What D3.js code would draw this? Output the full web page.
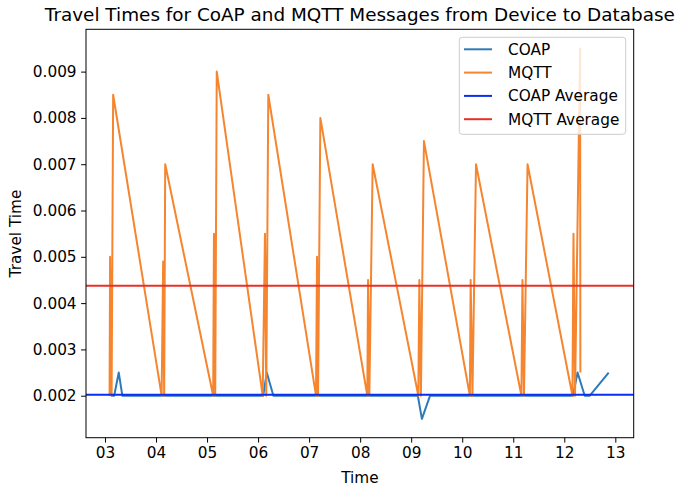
<!DOCTYPE html>
<html>
<head>
<meta charset="utf-8">
<script src="https://cdn.jsdelivr.net/npm/d3@7"></script>
<style>
  html, body { margin: 0; padding: 0; background: #fff; }
  svg { display: block; font-family: "DejaVu Sans", sans-serif; }
</style>
</head>
<body>
<svg id="chart" width="675" height="489"></svg>
<script>
// ---- data ----
const coapTimes  = [3.12, 3.18, 3.27, 3.34, 4.2, 5.2, 6.10, 6.17, 6.30, 7.2, 8.2, 9.13, 9.21, 9.37, 10.3, 11.3, 12.17, 12.26, 12.40, 12.50, 12.87];
const coapValues = [0.002, 0.002, 0.0025, 0.002, 0.002, 0.002, 0.002, 0.0025, 0.002, 0.002, 0.002, 0.002, 0.0015, 0.002, 0.002, 0.002, 0.002, 0.0025, 0.002, 0.002, 0.0025];

const mqttTimes = [
  3.09, 3.10, 3.13, 3.16,
  4.11, 4.14, 4.16, 4.18,
  5.12, 5.135, 5.16, 5.19,
  6.09, 6.135, 6.16, 6.20,
  7.135, 7.155, 7.175, 7.22,
  8.14, 8.155, 8.18, 8.245,
  9.14, 9.16, 9.19, 9.25,
  10.15, 10.165, 10.20, 10.27,
  11.16, 11.18, 11.21, 11.28,
  12.16, 12.18, 12.21, 12.31, 12.315
];
const mqttValues = [
  0.002, 0.005, 0.002, 0.0085,
  0.002, 0.0049, 0.002, 0.007,
  0.002, 0.0055, 0.002, 0.009,
  0.002, 0.0055, 0.002, 0.0085,
  0.002, 0.005, 0.002, 0.008,
  0.002, 0.0045, 0.002, 0.007,
  0.002, 0.0045, 0.002, 0.0075,
  0.002, 0.0045, 0.002, 0.007,
  0.002, 0.0045, 0.002, 0.007,
  0.002, 0.0055, 0.002, 0.0095, 0.0025
];

const coapAverage = 0.00202;
const mqttAverage = 0.004376;

const xTickValues = [3, 4, 5, 6, 7, 8, 9, 10, 11, 12, 13];
const xTickLabels = ["03", "04", "05", "06", "07", "08", "09", "10", "11", "12", "13"];
const yTickValues = [0.002, 0.003, 0.004, 0.005, 0.006, 0.007, 0.008, 0.009];

const titleText = "Travel Times for CoAP and MQTT Messages from Device to Database";
const legendItems = ["COAP", "MQTT", "COAP Average", "MQTT Average"];
const colors = ["#2f7ab8", "#f5852f", "#0a2ff0", "#e8302a"];

// ---- layout ----
const svg = d3.select("#chart");
const pLeft = 86, pRight = 633.7, pTop = 29.3, pBottom = 437.7;
const fs = "15.3px";

const x = d3.scaleLinear().domain([2.628, 13.36]).range([pLeft, pRight]);
const y = d3.scaleLinear().domain([0.001093, 0.009914]).range([pBottom, pTop]);

svg.append("clipPath").attr("id", "clip")
  .append("rect").attr("x", pLeft).attr("y", pTop).attr("width", pRight - pLeft).attr("height", pBottom - pTop);

const plot = svg.append("g").attr("clip-path", "url(#clip)");
const line = d3.line().x(d => x(d[0])).y(d => y(d[1]));

const coap = coapTimes.map((t, i) => [t, coapValues[i]]);
const mqtt = mqttTimes.map((t, i) => [t, mqttValues[i]]);

plot.append("path").datum(coap).attr("d", line)
  .attr("fill", "none").attr("stroke", colors[0])
  .attr("stroke-width", 2).attr("stroke-linejoin", "round");
plot.append("path").datum(mqtt).attr("d", line)
  .attr("fill", "none").attr("stroke", colors[1])
  .attr("stroke-width", 2).attr("stroke-linejoin", "round");
plot.append("line").attr("x1", pLeft).attr("x2", pRight)
  .attr("y1", y(coapAverage)).attr("y2", y(coapAverage))
  .attr("stroke", colors[2]).attr("stroke-width", 2);
plot.append("line").attr("x1", pLeft).attr("x2", pRight)
  .attr("y1", y(mqttAverage)).attr("y2", y(mqttAverage))
  .attr("stroke", colors[3]).attr("stroke-width", 2);

// axes
const xAxis = d3.axisBottom(x).tickValues(xTickValues)
  .tickFormat((d, i) => xTickLabels[i]).tickSize(4.9).tickPadding(4.5);
const yAxis = d3.axisLeft(y).tickValues(yTickValues)
  .tickFormat(d3.format(".3f")).tickSize(4.9).tickPadding(4.5);

const gx = svg.append("g").attr("transform", `translate(0,${pBottom})`).call(xAxis);
const gy = svg.append("g").attr("transform", `translate(${pLeft},0)`).call(yAxis);
[gx, gy].forEach(g => {
  g.select(".domain").remove();
  g.selectAll("line").attr("stroke", "#000").attr("stroke-width", 1);
  g.selectAll("text").attr("fill", "#000").style("font-size", fs)
    .style("font-family", "DejaVu Sans, sans-serif");
});

// frame
svg.append("rect").attr("x", pLeft).attr("y", pTop)
  .attr("width", pRight - pLeft).attr("height", pBottom - pTop)
  .attr("fill", "none").attr("stroke", "#000").attr("stroke-width", 1);

// title & labels
svg.append("text").attr("x", (pLeft + pRight) / 2).attr("y", 21)
  .attr("text-anchor", "middle").style("font-size", "18.4px").attr("fill", "#000")
  .text(titleText);
svg.append("text").attr("x", (pLeft + pRight) / 2).attr("y", 483)
  .attr("text-anchor", "middle").style("font-size", fs).attr("fill", "#000")
  .text("Time");
svg.append("text").attr("transform", `translate(21,${(pTop + pBottom) / 2}) rotate(-90)`)
  .attr("text-anchor", "middle").style("font-size", fs).attr("fill", "#000")
  .text("Travel Time");

// legend
const lg = svg.append("g");
lg.append("rect").attr("x", 459.3).attr("y", 37.3).attr("width", 166.4).attr("height", 97)
  .attr("rx", 3).attr("fill", "#fff").attr("fill-opacity", 0.8)
  .attr("stroke", "#cccccc").attr("stroke-width", 1);
legendItems.forEach((name, i) => {
  const yy = 49.3 + i * 23.3;
  lg.append("line").attr("x1", 464).attr("x2", 492).attr("y1", yy).attr("y2", yy)
    .attr("stroke", colors[i]).attr("stroke-width", 2);
  lg.append("text").attr("x", 508).attr("y", yy + 5.5)
    .style("font-size", fs).attr("fill", "#000").text(name);
});
</script>
</body>
</html>
